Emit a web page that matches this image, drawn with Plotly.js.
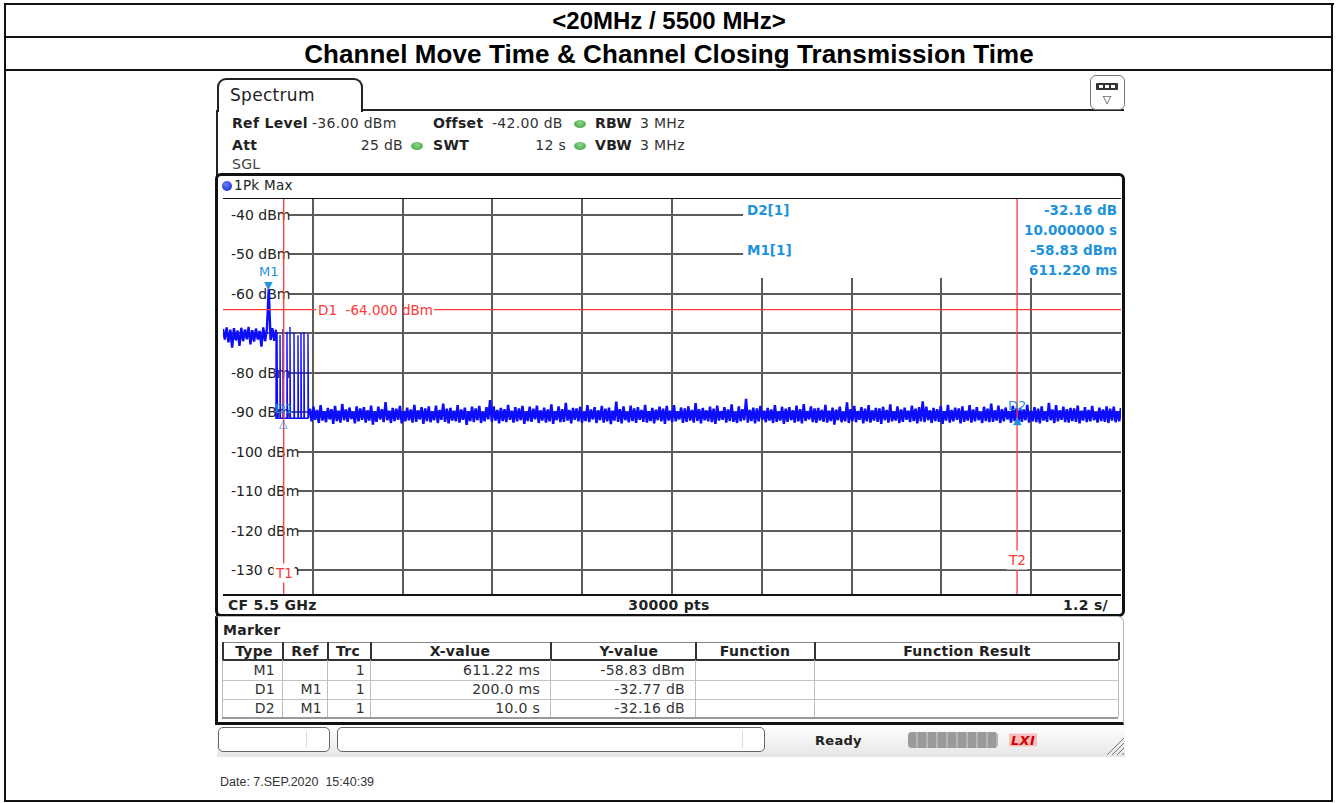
<!DOCTYPE html>
<html>
<head>
<meta charset="utf-8">
<script src="https://cdn.plot.ly/plotly-3.0.1.min.js"></script>
<style>
  html, body { margin: 0; padding: 0; background: #fff; }
  #page { position: relative; width: 1338px; height: 803px; overflow: hidden; background: #fff; }
  .ln { position: absolute; background: #111; }
  .t { position: absolute; white-space: pre; line-height: 1; z-index: 3; }
  #chart { position: absolute; left: 0; top: 0; width: 1338px; height: 803px; z-index: 2; }
</style>
</head>
<body>
<div id="page">
  <div id="chart"></div>
</div>
<script>
// ---------------- measurement data ----------------
const sweepTime = 12;          // s, full span of the time axis
const refLevel = -36;          // dBm, top of the display
const bottomLevel = -136;      // dBm, bottom of the display
const yTickVals = [-40, -50, -60, -70, -80, -90, -100, -110, -120, -130];
const yTickText = ['-40 dBm', '-50 dBm', '-60 dBm', '', '-80 dBm', '-90 dBm', '-100 dBm', '-110 dBm', '-120 dBm', '-130 dBm'];

// trace 1 (1Pk Max)
// channel occupied before the move, one sample every preStep seconds from 0 s
const preStep = 0.02445;
const preLevels = [
  -68.9,-71.6,-68.5,-72.3,-69.1,-73.6,-68.7,-71.8,-69.3,-73.2,
  -68.6,-72.0,-69.0,-71.5,-68.4,-72.8,-69.2,-72.1,-68.8,-71.6,
  -69.4,-73.4,-68.5,-72.0,-68.9,-58.83,-71.7,-68.7,-71.9,-69.1
];
// transmission stops here
const dropTime = 0.708;
// short control bursts after the channel move
const burstTimes = [0.722, 0.762, 0.802, 0.855, 0.895, 0.949, 1.002, 1.042, 1.082, 1.136];
const burstPeaks = [-69.7, -70.4, -68.9, -69.6, -68.4, -69.8, -70.5, -69.9, -69.7, -70.2];
const burstBase = -91.5;
// noise floor for the rest of the sweep, evenly sampled from floorStart to the sweep end
const floorStart = 1.16;
const floorLevels = [
  -89.1,-92.3,-88.6,-91.9,-89.4,-92.7,-88.2,-92.1,-89.7,-92.5,-88.9,-91.8,-89.2,-92.9,-88.4,-92.2,-89.6,-92.6,-87.9,-92.0,
  -89.3,-92.4,-88.8,-91.7,-89.9,-92.8,-88.5,-92.3,-89.0,-91.9,-88.7,-92.6,-89.5,-92.1,-88.3,-93.1,-89.8,-92.4,-88.6,-91.8,
  -89.2,-92.5,-87.4,-92.0,-89.6,-92.7,-88.9,-92.2,-89.1,-91.9,-88.4,-92.8,-89.7,-92.3,-88.8,-92.0,-89.3,-92.6,-88.1,-92.4,
  -89.5,-91.8,-88.7,-92.9,-89.0,-92.2,-88.5,-92.5,-89.8,-92.0,-88.3,-92.7,-89.4,-91.9,-87.8,-92.4,-89.1,-92.8,-88.9,-92.1,
  -89.6,-92.3,-88.2,-92.6,-89.3,-91.9,-88.8,-93.2,-89.7,-92.2,-88.6,-92.5,-89.0,-92.0,-88.4,-92.7,-89.9,-92.3,-88.7,-91.8,
  -86.9,-92.4,-88.5,-92.1,-89.4,-92.8,-88.9,-92.2,-89.2,-92.5,-88.1,-91.9,-89.6,-92.6,-88.7,-92.3,-89.0,-92.0,-88.4,-92.9,
  -89.8,-92.2,-88.6,-92.4,-89.1,-91.8,-88.3,-92.7,-89.5,-92.1,-88.8,-92.6,-89.3,-92.3,-88.0,-92.9,-89.7,-92.0,-88.5,-92.5,
  -89.2,-92.4,-87.6,-92.1,-89.4,-92.8,-88.9,-91.9,-89.0,-92.3,-88.6,-92.6,-89.8,-92.2,-88.2,-92.5,-89.3,-91.8,-88.7,-92.7,
  -89.5,-92.0,-88.4,-92.6,-89.1,-92.3,-88.8,-93.0,-89.6,-92.1,-87.3,-92.4,-89.2,-92.8,-88.5,-92.0,-89.9,-92.5,-88.3,-92.2,
  -89.0,-92.7,-88.7,-91.9,-89.4,-92.4,-88.1,-92.6,-89.7,-92.2,-88.9,-92.8,-89.3,-92.0,-88.6,-92.3,-89.1,-92.9,-88.4,-92.1,
  -89.6,-92.5,-88.2,-92.3,-89.8,-91.8,-88.8,-92.7,-89.0,-92.4,-88.5,-92.1,-89.4,-92.6,-87.7,-92.2,-89.2,-92.8,-88.9,-92.0,
  -89.5,-92.3,-88.6,-92.5,-89.1,-92.9,-88.3,-92.1,-89.7,-91.9,-88.7,-92.6,-89.3,-92.2,-88.0,-92.4,-89.9,-92.7,-88.5,-92.3,
  -89.2,-92.0,-86.6,-92.6,-89.4,-92.2,-88.8,-92.8,-89.0,-92.3,-88.4,-91.9,-89.6,-92.5,-88.9,-92.1,-89.3,-92.7,-88.2,-92.4,
  -89.8,-92.1,-88.6,-92.9,-89.1,-92.4,-88.7,-92.0,-89.5,-92.6,-88.3,-92.3,-89.2,-92.8,-87.9,-92.2,-89.7,-91.8,-88.5,-92.5,
  -89.0,-92.7,-88.9,-92.1,-89.4,-92.4,-88.1,-92.6,-89.6,-92.2,-88.8,-93.1,-89.3,-92.0,-88.6,-92.5,-89.9,-92.3,-87.5,-92.7,
  -89.2,-92.2,-88.4,-92.5,-89.7,-91.9,-88.7,-92.8,-89.1,-92.3,-88.2,-92.6,-89.5,-92.1,-88.9,-92.4,-89.0,-92.9,-88.6,-92.0,
  -89.4,-92.6,-88.0,-92.3,-89.8,-92.1,-88.5,-92.7,-89.3,-92.4,-88.8,-91.9,-89.6,-92.5,-88.3,-92.2,-89.1,-92.8,-88.7,-92.3,
  -87.2,-92.5,-88.6,-92.0,-89.5,-92.7,-88.9,-92.2,-89.2,-92.4,-88.4,-92.9,-89.7,-92.1,-88.1,-92.6,-89.4,-92.3,-88.8,-91.9,
  -89.0,-92.8,-88.5,-92.4,-89.6,-92.1,-88.2,-92.6,-89.3,-92.3,-88.7,-92.0,-89.9,-92.7,-88.6,-92.2,-89.1,-92.5,-87.8,-92.4,
  -89.5,-92.1,-88.3,-92.7,-89.2,-92.3,-88.8,-91.8,-89.7,-92.6,-88.4,-92.2,-89.0,-92.9,-88.9,-92.4,-89.4,-92.0,-88.1,-92.6,
  -89.6,-92.3,-88.7,-92.5,-89.1,-92.8,-88.5,-92.1,-89.8,-92.4,-87.6,-92.0,-89.3,-92.7,-88.2,-92.3,-89.5,-91.9,-88.6,-92.5,
  -89.2,-92.6,-88.9,-92.2,-89.0,-92.4,-88.3,-92.8,-89.6,-92.1,-88.7,-92.5,-89.4,-92.3,-88.4,-92.0,-89.9,-92.6,-88.8,-92.2,
  -89.3,-92.4,-88.5,-92.7,-89.1,-92.1,-88.6,-92.5,-89.7,-92.3,-88.9
];

// marker table
const markerNames = ['M1', 'D1', 'D2'];
const markerRefs  = ['', 'M1', 'M1'];
const markerTrc   = ['1', '1', '1'];
const markerXText = ['611.22 ms', '200.0 ms', '10.0 s'];
const markerYText = ['-58.83 dBm', '-32.77 dB', '-32.16 dB'];
const m1Time = 0.61122, m1Level = -58.83;      // s, dBm
const deltaTimes = [0.2, 10.0];                // D1, D2 relative to M1 (s)
const deltaLevels = [-32.77, -32.16];          // D1, D2 relative to M1 (dB)
const displayLineD1 = -64;                     // dBm

// ---------------- page chrome ----------------
const page = document.getElementById('page');
function line(x, y, w, h, color) {
  const d = document.createElement('div');
  d.className = 'ln';
  d.style.cssText = `left:${x}px;top:${y}px;width:${w}px;height:${h}px;` + (color ? `background:${color};` : '');
  page.appendChild(d);
  return d;
}
function box(x, y, w, h, css) {
  const d = document.createElement('div');
  d.style.cssText = `position:absolute;left:${x}px;top:${y}px;width:${w}px;height:${h}px;box-sizing:border-box;` + css;
  page.appendChild(d);
  return d;
}
const RS = '"DejaVu Sans", Verdana, sans-serif';
function put(txt, x, y, o) {
  o = o || {};
  const d = document.createElement('div');
  d.className = 't';
  d.textContent = txt;
  const ax = o.a === 'r' ? '-100%' : (o.a === 'c' ? '-50%' : '0');
  d.style.cssText += `left:${x}px;top:${y}px;transform:translate(${ax},-50%);` +
    `font-family:${o.f || RS};font-size:${o.s || 14}px;font-weight:${o.w || 'normal'};` +
    `color:${o.c || '#222'};letter-spacing:${o.ls === undefined ? 0.3 : o.ls}px;` + (o.css || '');
  page.appendChild(d);
  return d;
}

// document table around the screenshot
line(4, 3, 1330, 2);
line(4, 3, 2, 799);
line(1331, 3, 2, 799);
line(4, 36, 1329, 2);
line(4, 69, 1329, 2);
line(4, 800, 1329, 2);
const HF = '"Liberation Sans", Arial, sans-serif';
put('<20MHz / 5500 MHz>', 669, 21, {f: HF, s: 24, w: 'bold', c: '#000', ls: 0, a: 'c'});
put('Channel Move Time & Channel Closing Transmission Time', 669, 54, {f: HF, s: 26, w: 'bold', c: '#000', ls: 0.1, a: 'c'});

// tab and title strip
box(217, 78, 146, 34, 'border:2px solid #222;border-bottom:none;border-radius:9px 9px 0 0;background:#fff;');
put('Spectrum', 230, 95, {s: 17});
line(362, 109, 762, 2, '#222');
line(216, 110, 2, 614, '#222');
box(1090, 75, 35, 35, 'border:1.5px solid #777;border-radius:6px;background:#fff;');
box(1096, 83, 22, 7, 'background:#333;border-radius:1px;');
[1099, 1105, 1111].forEach(x => box(x, 85, 4, 3, 'background:#fff;'));
put('\u25BD', 1107, 99, {s: 11, c: '#333', a: 'c', ls: 0});

// setting lines
function dot(cx, cy) { box(cx - 6, cy - 3.5, 12, 8, 'background:radial-gradient(ellipse at 50% 35%, #8fd88f, #3a9a3a);border-radius:50%;'); }
put('Ref Level', 232, 123, {w: 'bold'});
put('-36.00 dBm', 312, 123, {c: '#333'});
put('Offset', 433, 123, {w: 'bold'});
put('-42.00 dB', 492, 123, {c: '#333'});
dot(580, 123);
put('RBW', 595, 123, {w: 'bold'});
put('3 MHz', 640, 123, {c: '#333'});
put('Att', 232, 145, {w: 'bold'});
put('25 dB', 403, 145, {c: '#333', a: 'r'});
dot(417, 145);
put('SWT', 433, 145, {w: 'bold'});
put('12 s', 566, 145, {c: '#333', a: 'r'});
dot(580, 145);
put('VBW', 595, 145, {w: 'bold'});
put('3 MHz', 640, 145, {c: '#333'});
put('SGL', 232, 164, {c: '#444'});

// diagram frame
box(215, 173, 910, 444, 'border:3px solid #111;border-radius:6px;');
box(222, 181, 10, 10, 'background:radial-gradient(circle at 40% 35%, #6a7dff, #0a1fc8);border-radius:50%;');
put('1Pk Max', 234, 186, {s: 13.5});
put('CF 5.5 GHz', 228, 605, {w: 'bold', s: 14});
put('30000 pts', 669, 605, {w: 'bold', s: 14, a: 'c'});
put('1.2 s/', 1108, 605, {w: 'bold', s: 14, a: 'r'});

// marker table panel
box(215, 616, 909, 109, 'border:1.5px solid #bbb;border-left:3px solid #111;border-bottom:3px solid #111;border-radius:0 6px 0 0;');
put('Marker', 223, 630, {w: 'bold'});
const colEdges = [222, 282, 327, 370, 550, 695, 814, 1118];
line(222, 642, 896, 1, '#888');
line(222, 659, 896, 2, '#333');
[680, 699].forEach(y => line(222, y, 896, 1, '#c4c4c4'));
line(222, 717, 896, 1.5, '#999');
colEdges.forEach(x => {
  line(x, 642, 1.5, 18, '#333');
  line(x, 660, 1, 57, '#bdbdbd');
});
const headNames = ['Type', 'Ref', 'Trc', 'X-value', 'Y-value', 'Function', 'Function Result'];
const headCenters = [254, 305, 348, 460, 629, 755, 967];
headNames.forEach((h, i) => put(h, headCenters[i], 651, {w: 'bold', a: 'c'}));
const rowY = [670, 689, 708];
markerNames.forEach((n, i) => {
  put(n, 275, rowY[i], {a: 'r', c: '#333'});
  if (markerRefs[i]) put(markerRefs[i], 322, rowY[i], {a: 'r', c: '#333'});
  put(markerTrc[i], 365, rowY[i], {a: 'r', c: '#333'});
  put(markerXText[i], 540, rowY[i], {a: 'r', c: '#333'});
  put(markerYText[i], 685, rowY[i], {a: 'r', c: '#333'});
});

// status bar
box(217, 725, 908, 32, 'background:linear-gradient(#ffffff, #e6e6e6);');
box(218, 727, 112, 25, 'border:1px solid #666;border-radius:5px;background:#fff;');
line(306, 731, 1, 17, '#ddd');
box(337, 727, 428, 25, 'border:1px solid #666;border-radius:5px;background:#fff;');
line(742, 731, 1, 17, '#ddd');
put('Ready', 815, 740, {w: 'bold', s: 13});
box(908, 732, 90, 16, 'background:repeating-linear-gradient(90deg,#9a9a9a 0px,#9a9a9a 8px,#b5b5b5 8px,#b5b5b5 10px);border-radius:4px;');
put('LXI', 1023, 740, {w: 'bold', s: 13, c: '#d40000', a: 'c', css: 'font-style:italic;background:#f6c0c0;padding:0 2px;'});
const grip = box(1106, 736, 19, 20, '');
grip.innerHTML = '<svg width="19" height="20"><g stroke="#777" stroke-width="1"><line x1="18" y1="2" x2="1" y2="19"/><line x1="18" y1="7" x2="6" y2="19"/><line x1="18" y1="12" x2="11" y2="19"/><line x1="18" y1="17" x2="16" y2="19"/></g></svg>';

put('Date: 7.SEP.2020  15:40:39', 220, 782, {f: HF, s: 12.5, c: '#333', ls: 0});

// ---------------- diagram ----------------
const L = 223, T = 199, W = 898, H = 395;
const px = p => (p - L) / W;            // page x -> paper x
const py = p => (T + H - p) / H;        // page y -> paper y

// occupied channel
const preTimes = preLevels.map((_, i) => i * preStep);
// noise floor
const floorStep = (sweepTime - floorStart) / (floorLevels.length - 1);
const floorTimes = floorLevels.map((_, i) => floorStart + i * floorStep);
// drop and bursts, joined to both neighbours
const bTimes = [preTimes[preTimes.length - 1], dropTime], bLevels = [preLevels[preLevels.length - 1], burstBase];
burstTimes.forEach((t, k) => {
  bTimes.push(t, t, t + 0.006);
  bLevels.push(burstBase, burstPeaks[k], burstBase);
});
bTimes.push(floorTimes[0]); bLevels.push(floorLevels[0]);

const d1Time = m1Time + deltaTimes[0], d1Level = m1Level + deltaLevels[0];
const d2Time = m1Time + deltaTimes[1], d2Level = m1Level + deltaLevels[1];

const RED = '#ff3838', MK = '#1e93dc', TRACE = '#0c0cff', GRID = '#5c5c5c';
const shapes = [];
// white field holding the marker readout
shapes.push({type: 'rect', layer: 'between', xref: 'x', yref: 'y', x0: 6.95, x1: sweepTime, y0: -56, y1: refLevel,
  fillcolor: '#fff', line: {width: 0}});
// white backing behind level labels
yTickVals.forEach((v, i) => {
  if (!yTickText[i]) return;
  shapes.push({type: 'rect', layer: 'between', xref: 'x', yref: 'y', xsizemode: 'pixel', xanchor: 0,
    x0: -2, x1: 7 + yTickText[i].length * 8.4, ysizemode: 'pixel', yanchor: v, y0: -8, y1: 8,
    fillcolor: '#fff', line: {width: 0}});
});
// display line D1
shapes.push({type: 'line', layer: 'above', xref: 'x', yref: 'y', x0: 0, x1: 1.245, y0: displayLineD1, y1: displayLineD1, line: {color: RED, width: 1.3}});
shapes.push({type: 'line', layer: 'above', xref: 'x', yref: 'y', x0: 2.82, x1: sweepTime, y0: displayLineD1, y1: displayLineD1, line: {color: RED, width: 1.3}});
// time lines T1, T2
[d1Time, d2Time].forEach(t => shapes.push({type: 'line', layer: 'above', xref: 'x', yref: 'y', x0: t, x1: t,
  y0: bottomLevel, y1: refLevel, line: {color: RED, width: 1.3}}));

const FONT = 'DejaVu Sans, Verdana, sans-serif';
const ann = [];
ann.push({xref: 'x', yref: 'y', x: 1.245, y: displayLineD1, xanchor: 'left', yanchor: 'middle', showarrow: false,
  text: 'D1  -64.000 dBm', font: {family: FONT, size: 13.5, color: RED}});
ann.push({xref: 'x', yref: 'paper', x: d1Time, y: py(573), xanchor: 'center', yanchor: 'middle', showarrow: false,
  text: 'T1', bgcolor: '#fff', borderpad: 1, font: {family: FONT, size: 13.5, color: RED}});
ann.push({xref: 'x', yref: 'paper', x: d2Time, y: py(560), xanchor: 'center', yanchor: 'middle', showarrow: false,
  text: 'T2', bgcolor: '#fff', borderpad: 1, font: {family: FONT, size: 13.5, color: RED}});
// marker symbols and names
ann.push({xref: 'x', yref: 'y', x: m1Time, y: m1Level, xanchor: 'center', yanchor: 'bottom', yshift: -5, showarrow: false,
  text: '\u25BC', font: {family: FONT, size: 11, color: MK}});
ann.push({xref: 'x', yref: 'y', x: m1Time, y: m1Level, xanchor: 'center', yanchor: 'middle', yshift: 18, showarrow: false,
  text: 'M1', font: {family: FONT, size: 13, color: MK}});
ann.push({xref: 'x', yref: 'y', x: d1Time, y: d1Level, xanchor: 'center', yanchor: 'top', yshift: 4, showarrow: false,
  text: '\u25B3', font: {family: FONT, size: 11, color: MK}});
ann.push({xref: 'x', yref: 'y', x: d1Time, y: d1Level, xanchor: 'center', yanchor: 'middle', yshift: 10, showarrow: false,
  text: 'D1', font: {family: FONT, size: 13, color: MK}});
ann.push({xref: 'x', yref: 'y', x: d2Time, y: d2Level, xanchor: 'center', yanchor: 'top', yshift: 4, showarrow: false,
  text: '\u25B2', font: {family: FONT, size: 11, color: MK}});
ann.push({xref: 'x', yref: 'y', x: d2Time, y: d2Level, xanchor: 'center', yanchor: 'middle', yshift: 11, showarrow: false,
  text: 'D2', font: {family: FONT, size: 13, color: MK}});
// marker readout
const ro = {family: FONT, size: 13.5, color: MK, weight: 'bold'};
[['D2[1]', 210], ['M1[1]', 250]].forEach(([s, y]) => ann.push({xref: 'paper', yref: 'paper', x: px(745), y: py(y),
  xanchor: 'left', yanchor: 'middle', showarrow: false, text: s, font: ro}));
[['-32.16 dB', 210], ['10.000000 s', 230], ['-58.83 dBm', 250], ['611.220 ms', 270]].forEach(([s, y]) =>
  ann.push({xref: 'paper', yref: 'paper', x: px(1119), y: py(y), xanchor: 'right', yanchor: 'middle', showarrow: false, text: s, font: ro}));

const data = [
  {type: 'scatter', mode: 'lines', x: preTimes, y: preLevels, line: {color: TRACE, width: 2.4}, hoverinfo: 'skip'},
  {type: 'scatter', mode: 'lines', x: bTimes, y: bLevels, line: {color: TRACE, width: 1.4}, hoverinfo: 'skip'},
  {type: 'scatter', mode: 'lines', x: floorTimes, y: floorLevels, line: {color: TRACE, width: 2.5}, hoverinfo: 'skip'}
];

const layout = {
  width: 1338, height: 803,
  margin: {l: L, r: 1338 - L - W, t: T, b: 803 - T - H, pad: 0},
  paper_bgcolor: 'rgba(0,0,0,0)', plot_bgcolor: '#fff',
  showlegend: false,
  xaxis: {range: [0, sweepTime], tickmode: 'linear', tick0: 0, dtick: 1.2, showticklabels: false, ticks: '',
    showgrid: true, gridcolor: GRID, gridwidth: 2, zeroline: false,
    showline: true, mirror: true, linecolor: '#111', linewidth: 1.5},
  yaxis: {range: [bottomLevel, refLevel], tickmode: 'array', tickvals: yTickVals, ticktext: yTickText,
    ticklabelposition: 'inside', ticklabelstandoff: 5, ticks: '', layer: 'below traces',
    tickfont: {family: FONT, size: 14, color: '#222'},
    showgrid: true, gridcolor: GRID, gridwidth: 2, zeroline: false, showline: false},
  shapes: shapes,
  annotations: ann
};

Plotly.newPlot('chart', data, layout, {staticPlot: true, displayModeBar: false});
</script>
</body>
</html>
